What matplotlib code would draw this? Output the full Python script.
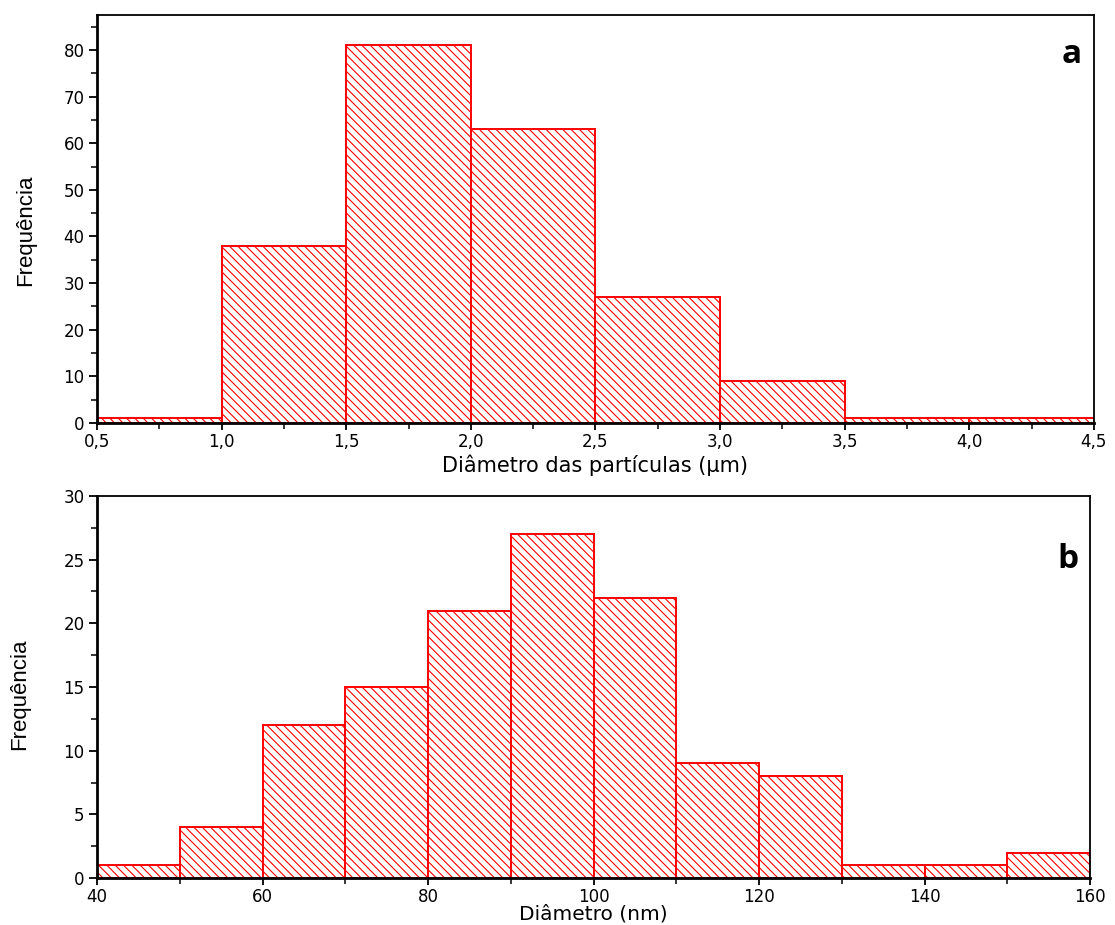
import matplotlib
matplotlib.use("Agg")
import matplotlib.pyplot as plt
from matplotlib.ticker import MultipleLocator, FuncFormatter
from matplotlib.transforms import blended_transform_factory

# Panel a
edges_a = [0.5, 1.0, 1.5, 2.0, 2.5, 3.0, 3.5, 4.0, 4.5]
counts_a = [1, 38, 81, 63, 27, 9, 1, 1]
# Panel b
edges_b = [40, 50, 60, 70, 80, 90, 100, 110, 120, 130, 140, 150, 160]
counts_b = [1, 4, 12, 15, 21, 27, 22, 9, 8, 1, 1, 2]

plt.rcParams['font.family'] = ['DejaVu Sans']
plt.rcParams['hatch.linewidth'] = 0.8
plt.rcParams['hatch.color'] = 'red'

fig = plt.figure(figsize=(11.15, 9.25), dpi=100)
ax1 = fig.add_axes([0.087, 0.5427, 0.894, 0.4411])
ax2 = fig.add_axes([0.087, 0.0508, 0.8906, 0.4130])

def draw(ax, edges, counts):
    lefts = edges[:-1]
    widths = [edges[i+1] - edges[i] for i in range(len(counts))]
    ax.bar(lefts, counts, width=widths, align='edge', facecolor='white',
           edgecolor='red', linewidth=1.4, hatch='\\\\\\\\')
    for s in ax.spines.values():
        s.set_linewidth(1.3)
    ax.spines['left'].set_linewidth(2)
    ax.spines['bottom'].set_linewidth(2)
    ax.tick_params(direction='out', length=6, width=1.3, labelsize=12, pad=3)
    ax.tick_params(which='minor', direction='out', length=4, width=1.1)
    ax.tick_params(axis='y', which='both', left=True, right=False)
    ax.tick_params(axis='x', which='both', bottom=True, top=False)
    ax.tick_params(axis='x', which='major', length=5, pad=2)

ylab_font = ['Liberation Sans', 'DejaVu Sans']

draw(ax1, edges_a, counts_a)
ax1.set_xlim(0.5, 4.5)
ax1.set_ylim(0, 87.5)
ax1.xaxis.set_major_locator(MultipleLocator(0.5))
ax1.xaxis.set_minor_locator(MultipleLocator(0.25))
ax1.yaxis.set_major_locator(MultipleLocator(10))
ax1.yaxis.set_minor_locator(MultipleLocator(5))
ax1.xaxis.set_major_formatter(FuncFormatter(lambda v, p: f"{v:.1f}".replace('.', ',')))
ax1.set_xlabel('Diâmetro das partículas (µm)', fontsize=15, va='center')
ax1.xaxis.set_label_coords(0.5, -0.104)
ax1.set_ylabel('Frequência', fontsize=16, family=ylab_font, va='center')
ax1.yaxis.set_label_coords(-0.072, 0.473)
ax1.text(0.978, 0.902, 'a', transform=ax1.transAxes, fontsize=24, fontweight='bold',
         ha='center', va='center', family=['Open Sans', 'DejaVu Sans'])

draw(ax2, edges_b, counts_b)
ax2.set_xlim(40, 160)
ax2.set_ylim(0, 30)
ax2.xaxis.set_major_locator(MultipleLocator(20))
ax2.xaxis.set_minor_locator(MultipleLocator(10))
ax2.yaxis.set_major_locator(MultipleLocator(5))
ax2.yaxis.set_minor_locator(MultipleLocator(2.5))
ax2.set_xlabel('Diâmetro (nm)', fontsize=14.5, va='bottom')
ax2.xaxis.set_label_coords(0.5, 2 / 925,
                           transform=blended_transform_factory(ax2.transAxes, fig.transFigure))
ax2.set_ylabel('Frequência', fontsize=16, family=ylab_font, va='center')
ax2.yaxis.set_label_coords(-0.0775, 0.482)
ax2.text(0.978, 0.833, 'b', transform=ax2.transAxes, fontsize=24, fontweight='bold',
         ha='center', va='center', family=['Open Sans', 'DejaVu Sans'])

fig.savefig('out.png', dpi=100)
